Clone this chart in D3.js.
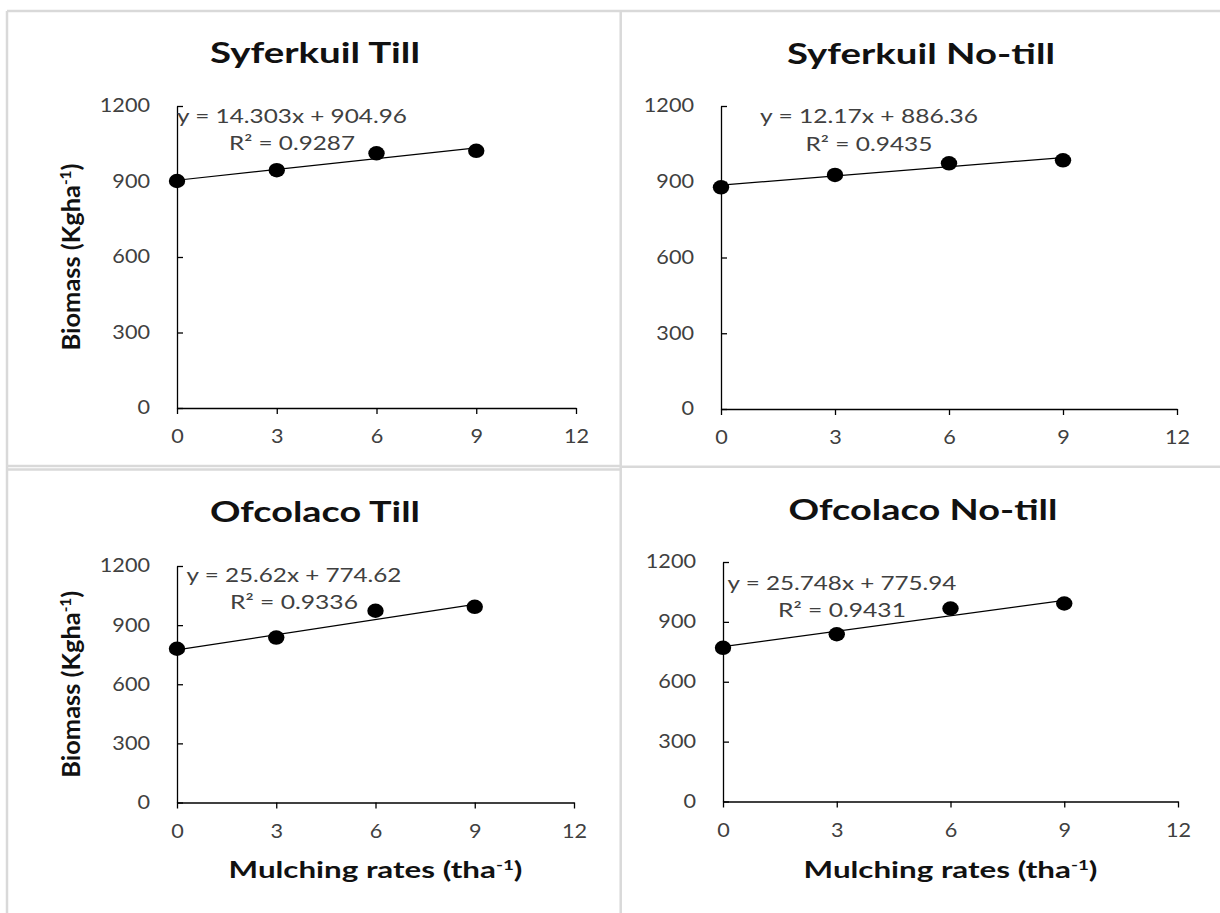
<!DOCTYPE html>
<html>
<head>
<meta charset="utf-8">
<script src="https://cdn.jsdelivr.net/npm/d3@7"></script>
<style>
  html, body { margin: 0; padding: 0; background: #fff; }
  svg { display: block; }
</style>
</head>
<body>
<svg id="chart" width="1220" height="913"></svg>
<script>
// Mulching rate (t/ha) on the x axis, shared by all four panels
const rates = [0, 3, 6, 9];
const xTicks = [0, 3, 6, 9, 12];
const yTicks = [0, 300, 600, 900, 1200];

// Biomass (kg/ha) per site and tillage system
const syferkuilTill   = [902, 945, 1012, 1022];
const syferkuilNoTill = [878, 927, 973, 985];
const ofcolacoTill    = [780, 837, 973, 993];
const ofcolacoNoTill  = [770, 838, 967, 992];

// Linear trendline fits
const slopes     = [14.303, 12.17, 25.62, 25.748];
const intercepts = [904.96, 886.36, 774.62, 775.94];
const rSquared   = ["0.9287", "0.9435", "0.9336", "0.9431"];
const titles     = ["Syferkuil Till", "Syferkuil No-till", "Ofcolaco Till", "Ofcolaco No-till"];

const series = [syferkuilTill, syferkuilNoTill, ofcolacoTill, ofcolacoNoTill];

// Panel geometry: plot area, anchors and rendered text widths
const panels = [
  { px0: 177, px1: 576,  py0: 408,   py1: 106, titleX: 315, titleY: 63,  titleW: 210,
    eqX: 292, eqY: 123, eqW: 230, r2Y: 150, r2W: 126, yLabel: true,  xLabel: false },
  { px0: 721, px1: 1177, py0: 409,   py1: 106, titleX: 921, titleY: 64,  titleW: 268,
    eqX: 869, eqY: 123, eqW: 218, r2Y: 151, r2W: 127, yLabel: false, xLabel: false },
  { px0: 177, px1: 574,  py0: 802.5, py1: 566, titleX: 315, titleY: 522, titleW: 210,
    eqX: 294, eqY: 582, eqW: 215, r2Y: 609, r2W: 128, yLabel: true,  xLabel: true },
  { px0: 723, px1: 1178, py0: 801.5, py1: 562, titleX: 923, titleY: 520, titleW: 269,
    eqX: 842, eqY: 590, eqW: 229, r2Y: 617, r2W: 128, yLabel: false, xLabel: true }
];

const SX = 1.17;                       // default horizontal text stretch
const FONT = "Lato, 'Open Sans', sans-serif";
const TEXT_GREY = "#404040";
const INK = "#111";

const svg = d3.select("#chart");
svg.append("rect").attr("width", 1220).attr("height", 913).attr("fill", "#fff");

// Light grey frames around the four chart areas
const frame = svg.append("g").attr("stroke", "#d9d9d9").attr("stroke-width", 2.5).attr("fill", "none");
[
  [7, 11, 1220, 11],
  [7, 11, 7, 913],
  [620.7, 11, 620.7, 913],
  [7, 466, 620, 466],
  [7, 469.5, 620, 469.5],
  [620, 466.8, 1220, 466.8]
].forEach(([x1, y1, x2, y2]) => {
  frame.append("line").attr("x1", x1).attr("y1", y1).attr("x2", x2).attr("y2", y2);
});

// Text stretched along its own direction, either by a fixed factor or to a target length
function label(parent, x, y, opts, build) {
  const g = parent.append("g");
  const t = g.append("text")
    .attr("text-anchor", "middle")
    .attr("font-family", FONT)
    .attr("font-size", opts.size)
    .attr("font-weight", opts.weight || 400)
    .attr("fill", opts.fill || TEXT_GREY);
  build(t);
  const natural = t.node().getComputedTextLength();
  const s = opts.width ? opts.width / natural : SX;
  g.attr("transform", `translate(${x},${y})${opts.rotate ? " rotate(-90)" : ""} scale(${s},1)`);
  return t;
}

function withSuperscript(main, sup, tail) {
  return t => {
    t.append("tspan").text(main);
    t.append("tspan").attr("font-size", "0.6em").attr("dy", "-0.6em").text(sup);
    t.append("tspan").attr("dy", "0.36em").text(tail);
  };
}

panels.forEach((p, i) => {
  const g = svg.append("g");
  const x = d3.scaleLinear().domain([0, 12]).range([p.px0, p.px1]);
  const y = d3.scaleLinear().domain([0, 1200]).range([p.py0, p.py1]);

  // Y axis: ticks point into the plot
  const yAx = g.append("g").attr("transform", `translate(${p.px0},0)`)
    .call(d3.axisLeft(y).tickValues(yTicks).tickFormat(d3.format("d"))
      .tickSizeInner(-6).tickSizeOuter(0).tickPadding(27));
  yAx.selectAll("text")
    .attr("x", -27 / SX)
    .attr("transform", `scale(${SX},1)`)
    .attr("font-family", FONT).attr("font-size", 18.5).attr("fill", TEXT_GREY);

  // X axis: ticks point outward
  const xAx = g.append("g").attr("transform", `translate(0,${p.py0})`)
    .call(d3.axisBottom(x).tickValues(xTicks).tickFormat(d3.format("d"))
      .tickSizeInner(6).tickSizeOuter(0).tickPadding(16));
  xAx.selectAll("text")
    .attr("transform", `scale(${SX},1)`)
    .attr("font-family", FONT).attr("font-size", 18.5).attr("fill", TEXT_GREY);

  [yAx, xAx].forEach(a => {
    a.select(".domain").attr("stroke", "#000").attr("stroke-width", 1.3);
    a.selectAll(".tick line").attr("stroke", "#000").attr("stroke-width", 1.3);
  });

  // Trendline from the fitted equation
  const fit = v => intercepts[i] + slopes[i] * v;
  const ends = [rates[0], rates[rates.length - 1]];
  g.append("path")
    .datum(ends)
    .attr("fill", "none").attr("stroke", "#000").attr("stroke-width", 1.2)
    .attr("d", d3.line().x(d => x(d)).y(d => y(fit(d))));

  // Observed biomass points
  g.selectAll("ellipse.pt")
    .data(rates.map((r, k) => ({ r, v: series[i][k] })))
    .join("ellipse").attr("class", "pt")
    .attr("cx", d => x(d.r)).attr("cy", d => y(d.v))
    .attr("rx", 8.2).attr("ry", 7.2).attr("fill", "#000");

  // Trendline equation and R²
  label(g, p.eqX, p.eqY, { size: 19, width: p.eqW },
    t => t.text(`y = ${slopes[i]}x + ${intercepts[i]}`));
  label(g, p.eqX, p.r2Y, { size: 19, width: p.r2W },
    t => t.text(`R² = ${rSquared[i]}`));

  // Panel title
  label(g, p.titleX, p.titleY, { size: 28, weight: 700, fill: INK, width: p.titleW },
    t => t.text(titles[i]));

  if (p.yLabel) {
    label(g, 80, (p.py0 + p.py1) / 2, { size: 24, weight: 700, fill: INK, width: 187, rotate: true },
      withSuperscript("Biomass (Kgha", "-1", ")"));
  }
  if (p.xLabel) {
    label(g, (p.px0 + p.px1) / 2, 878, { size: 22, weight: 700, fill: INK, width: 294 },
      withSuperscript("Mulching rates (tha", "-1", ")"));
  }
});
</script>
</body>
</html>
